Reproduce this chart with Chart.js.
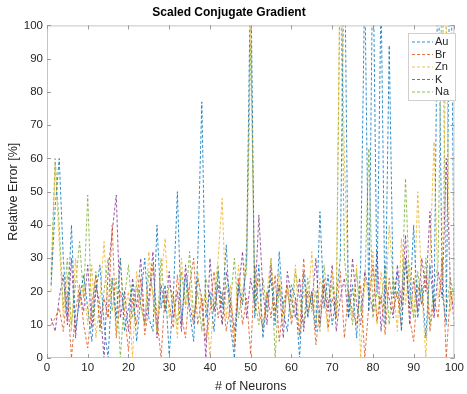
<!DOCTYPE html>
<html><head><meta charset="utf-8">
<script src="https://cdn.jsdelivr.net/npm/chart.js@4.4.1/dist/chart.umd.min.js"></script>
<style>html,body{margin:0;padding:0;background:#fff}#w{width:467px;height:394px}</style>
</head><body><div id="w"><canvas id="c" width="467" height="394"></canvas></div>
<script>
const neurons = Array.from({length:100},(_,i)=>i+1);
const seriesNames = ["Au","Br","Zn","K","Na"];
const xTicks = [0,10,20,30,40,50,60,70,80,90,100];
const yTicks = [0,10,20,30,40,50,60,70,80,90,100];
const Au = [22,45,60,30,12,40,8,18,25,15, 5,20,28,10,0,24,12,30,8,15, 22,5,18,30,12,8,40,15,22,1, 18,50,10,25,14,5,30,77,12,20, 8,26,15,34,10,0,22,16,30,120, 12,28,6,18,24,10,32,14,8,22, 18,0,26,12,20,8,44,15,25,10, 18,30,130,12,22,6,28,115,14,125, 20,110,10,94,18,26,8,30,15,40, 12,22,6,28,14,125,20,10,140,15];
const Br = [10,12,15,8,20,0,14,22,10,3, 16,25,9,18,12,40,6,20,14,2, 18,10,24,7,15,28,12,0,20,16, 9,25,13,6,22,30,10,18,5,14, 26,12,20,8,16,3,24,10,18,1, 28,14,9,20,12,25,5,16,22,10, 18,7,30,13,20,4,15,24,9,18, 12,26,6,20,14,10,22,0,16,28, 11,19,7,24,14,20,9,30,12,5, 22,16,25,8,18,12,30,0,20,14];
const Zn = [20,58,35,12,25,8,30,15,22,10, 28,6,18,35,12,24,8,30,14,20, 0,26,16,10,32,18,8,24,36,12, 20,6,30,15,22,10,26,14,20,0, 18,30,48,12,22,6,28,16,35,105, 14,24,8,20,30,12,26,10,22,16, 28,6,20,14,32,10,24,18,8,26, 15,130,60,20,12,28,0,24,18,32, 10,26,14,40,22,8,36,16,28,12, 50,20,0,30,65,18,24,100,14,22];
const K = [12,8,18,25,10,30,6,20,14,28, 9,22,16,0,26,38,49,12,20,8, 24,15,30,10,18,32,6,22,14,26, 12,20,8,28,16,10,24,18,0,30, 14,22,10,26,18,8,20,32,12,24, 16,43,20,10,28,14,22,6,26,18, 12,24,8,20,16,30,10,22,14,28, 8,18,24,12,30,16,10,26,20,14, 32,8,22,18,12,28,16,37,10,24, 14,30,20,44,12,26,18,60,22,10];
const Na = [25,60,40,15,30,10,22,35,18,49, 12,26,8,20,30,14,24,0,18,28, 12,22,16,10,26,20,8,30,14,22, 18,10,26,16,32,12,20,8,24,18, 14,28,10,22,16,30,12,20,26,95, 18,10,24,14,30,0,22,16,20,12, 26,18,10,24,14,20,8,28,16,22, 12,120,30,18,10,26,14,22,63,12, 20,16,28,10,24,18,14,54,20,12, 26,16,30,10,22,28,120,14,24,18];
const values = [Au,Br,Zn,K,Na];
const colors = ["#0072BD","#D95319","#EDB120","#7E2F8E","#77AC30"];

const datasets = seriesNames.map((n,i)=>({
  label:n,
  data: neurons.map((x,j)=>({x:x,y:values[i][j]})),
  borderColor: colors[i], borderWidth: 0.8, borderDash:[3,2],
  pointRadius:0, tension:0, fill:false
}));

const frame = {
  id:'frame',
  afterDatasetsDraw(chart){
    const {ctx, chartArea:a, scales} = chart;
    ctx.save();
    ctx.strokeStyle = '#c6c6c6'; ctx.lineWidth = 1; ctx.setLineDash([]);
    ctx.strokeRect(a.left+0.5, a.top+0.5, a.right-a.left-1, a.bottom-a.top-1);
    ctx.strokeStyle = '#9a9a9a';
    xTicks.forEach(v=>{const p=Math.round(scales.x.getPixelForValue(v))+0.5;
      ctx.beginPath();ctx.moveTo(p,a.bottom);ctx.lineTo(p,a.bottom-4);ctx.moveTo(p,a.top);ctx.lineTo(p,a.top+4);ctx.stroke();});
    yTicks.forEach(v=>{const p=Math.round(scales.y.getPixelForValue(v))+0.5;
      ctx.beginPath();ctx.moveTo(a.left,p);ctx.lineTo(a.left+4,p);ctx.moveTo(a.right,p);ctx.lineTo(a.right-4,p);ctx.stroke();});
    // legend
    const lx=408, ly=33, lw=47, lh=67;
    ctx.fillStyle='#fff'; ctx.fillRect(lx,ly,lw,lh);
    ctx.strokeStyle='#cfcfcf'; ctx.strokeRect(lx+0.5,ly+0.5,lw,lh);
    ctx.font='11px "Liberation Sans", Arial, sans-serif'; ctx.textBaseline='middle'; ctx.textAlign='left';
    chart.data.datasets.forEach((d,i)=>{
      const y = ly+9+i*12.5;
      ctx.strokeStyle=d.borderColor; ctx.lineWidth=0.8; ctx.setLineDash([3,2]);
      ctx.beginPath(); ctx.moveTo(lx+4,y); ctx.lineTo(lx+25,y); ctx.stroke();
      ctx.setLineDash([]);
      ctx.fillStyle='#262626'; ctx.fillText(d.label, lx+27, y);
    });
    ctx.restore();
  }
};

new Chart(document.getElementById('c'),{
  type:'line',
  data:{datasets},
  plugins:[frame],
  options:{
    responsive:false, animation:false,
    layout:{padding:{right:9,left:0,top:0,bottom:0}},
    plugins:{
      legend:{display:false}, tooltip:{enabled:false},
      title:{display:true, text:'Scaled Conjugate Gradient', color:'#000',
        font:{family:'"Liberation Sans", Arial, sans-serif', size:12, weight:'bold'}, padding:{top:5,bottom:6}}
    },
    scales:{
      x:{type:'linear', min:0, max:100,
        afterBuildTicks(s){s.ticks = xTicks.map(v=>({value:v}));},
        afterFit(s){s.height=36;},
        grid:{display:false, drawTicks:false}, border:{display:false},
        ticks:{color:'#262626', padding:3, maxRotation:0, font:{family:'"Liberation Sans", Arial, sans-serif', size:11.5}},
        title:{display:true, text:'# of Neurons', color:'#262626', padding:{top:0,bottom:0}, font:{family:'"Liberation Sans", Arial, sans-serif', size:12.5}}
      },
      y:{type:'linear', min:0, max:100,
        afterBuildTicks(s){s.ticks = yTicks.map(v=>({value:v}));},
        afterFit(s){s.width=47;},
        grid:{display:false, drawTicks:false}, border:{display:false},
        ticks:{color:'#262626', padding:4, font:{family:'"Liberation Sans", Arial, sans-serif', size:11.5}},
        title:{display:true, text:'Relative Error [%]', color:'#262626', padding:{top:6,bottom:0}, font:{family:'"Liberation Sans", Arial, sans-serif', size:12.5}}
      }
    }
  }
});
</script></body></html>
